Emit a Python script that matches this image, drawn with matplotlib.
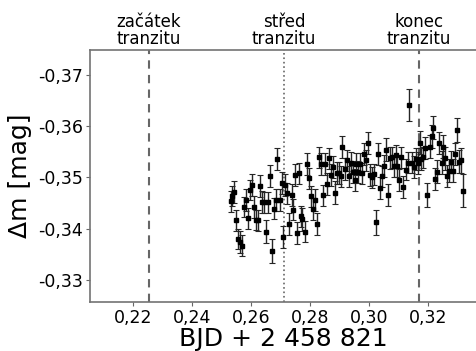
import matplotlib
matplotlib.use('Agg')
import matplotlib.pyplot as plt
from matplotlib.ticker import FuncFormatter

# BJD - 2458821
bjd = [0.2531, 0.2537, 0.2543, 0.2551, 0.2557, 0.2563, 0.2571, 0.2577, 0.2583, 0.2591,
       0.2598, 0.2603, 0.2611, 0.2618, 0.2624, 0.2631, 0.2639, 0.2645, 0.2650, 0.2657,
       0.2664, 0.2671, 0.2677, 0.2684, 0.2690, 0.2698, 0.2704, 0.2710, 0.2715, 0.2721,
       0.2730, 0.2738, 0.2744, 0.2750, 0.2757, 0.2764, 0.2770, 0.2775, 0.2783, 0.2791,
       0.2798, 0.2805, 0.2811, 0.2817, 0.2824, 0.2832, 0.2838, 0.2844, 0.2852, 0.2858,
       0.2865, 0.2872, 0.2878, 0.2885, 0.2891, 0.2898, 0.2905, 0.2910, 0.2918, 0.2925,
       0.2932, 0.2939, 0.2946, 0.2952, 0.2958, 0.2964, 0.2970, 0.2977, 0.2984, 0.2991,
       0.2997, 0.3005, 0.3012, 0.3019, 0.3026, 0.3031, 0.3038, 0.3045, 0.3052, 0.3059,
       0.3065, 0.3072, 0.3079, 0.3086, 0.3091, 0.3097, 0.3104, 0.3110, 0.3117, 0.3125,
       0.3132, 0.3138, 0.3146, 0.3152, 0.3159, 0.3166, 0.3173, 0.3178, 0.3185, 0.3192,
       0.3199, 0.3207, 0.3213, 0.3219, 0.3226, 0.3231, 0.3238, 0.3247, 0.3253, 0.3259,
       0.3266, 0.3272, 0.3279, 0.3286, 0.3293, 0.3299, 0.3305, 0.3312, 0.3319]

dmag = [-0.3453, -0.3464, -0.3471, -0.3416, -0.3380, -0.3374, -0.3367, -0.3442, -0.3456, -0.3420,
        -0.3475, -0.3485, -0.3442, -0.3417, -0.3416, -0.3483, -0.3452, -0.3451, -0.3394, -0.3451,
        -0.3503, -0.3356, -0.3439, -0.3456, -0.3536, -0.3456, -0.3489, -0.3384, -0.3485, -0.3469,
        -0.3409, -0.3466, -0.3437, -0.3505, -0.3391, -0.3508, -0.3424, -0.3418, -0.3394, -0.3526,
        -0.3498, -0.3463, -0.3438, -0.3456, -0.3409, -0.3539, -0.3526, -0.3465, -0.3526, -0.3487,
        -0.3537, -0.3505, -0.3520, -0.3470, -0.3509, -0.3509, -0.3502, -0.3559, -0.3516, -0.3533,
        -0.3502, -0.3529, -0.3511, -0.3495, -0.3526, -0.3511, -0.3526, -0.3508, -0.3546, -0.3533,
        -0.3567, -0.3505, -0.3500, -0.3506, -0.3412, -0.3546, -0.3479, -0.3502, -0.3522, -0.3554,
        -0.3466, -0.3538, -0.3539, -0.3522, -0.3543, -0.3522, -0.3495, -0.3539, -0.3481, -0.3515,
        -0.3529, -0.3641, -0.3529, -0.3520, -0.3536, -0.3528, -0.3568, -0.3536, -0.3539, -0.3557,
        -0.3466, -0.3560, -0.3580, -0.3597, -0.3497, -0.3511, -0.3567, -0.3529, -0.3560, -0.3537,
        -0.3503, -0.3513, -0.3530, -0.3513, -0.3546, -0.3592, -0.3531, -0.3533, -0.3474]

err = [0.0020, 0.0020, 0.0021, 0.0020, 0.0020, 0.0021, 0.0021, 0.0020, 0.0021, 0.0021,
       0.0020, 0.0021, 0.0021, 0.0020, 0.0021, 0.0021, 0.0021, 0.0021, 0.0022, 0.0021,
       0.0021, 0.0024, 0.0021, 0.0021, 0.0022, 0.0021, 0.0021, 0.0022, 0.0021, 0.0021,
       0.0021, 0.0022, 0.0021, 0.0021, 0.0022, 0.0021, 0.0021, 0.0022, 0.0021, 0.0021,
       0.0021, 0.0021, 0.0021, 0.0021, 0.0022, 0.0021, 0.0021, 0.0021, 0.0021, 0.0021,
       0.0021, 0.0021, 0.0021, 0.0022, 0.0021, 0.0021, 0.0021, 0.0022, 0.0021, 0.0021,
       0.0021, 0.0021, 0.0021, 0.0021, 0.0021, 0.0021, 0.0021, 0.0021, 0.0021, 0.0021,
       0.0022, 0.0021, 0.0021, 0.0021, 0.0025, 0.0021, 0.0022, 0.0021, 0.0021, 0.0022,
       0.0021, 0.0021, 0.0021, 0.0021, 0.0021, 0.0021, 0.0021, 0.0021, 0.0022, 0.0021,
       0.0021, 0.0031, 0.0021, 0.0021, 0.0021, 0.0021, 0.0022, 0.0021, 0.0021, 0.0022,
       0.0024, 0.0022, 0.0022, 0.0023, 0.0022, 0.0022, 0.0022, 0.0022, 0.0022, 0.0022,
       0.0022, 0.0022, 0.0022, 0.0022, 0.0022, 0.0023, 0.0023, 0.0024, 0.0032]

t_start = 0.2254
t_mid = 0.2713
t_end = 0.3171
top_labels = ['začátek\ntranzitu', 'střed\ntranzitu', 'konec\ntranzitu']

fig = plt.figure(figsize=(4.76, 3.51), dpi=100)
ax = fig.add_axes([0.189, 0.14, 0.811, 0.718])

ax.errorbar(bjd, dmag, yerr=err, fmt='s', color='black', ms=2.8,
            ecolor='0.15', elinewidth=1.0, capsize=2, capthick=0.8, zorder=3)

ax.axvline(t_start, color='0.4', ls='--', lw=1.5, dashes=(4, 3), zorder=1)
ax.axvline(t_mid, color='0.4', ls=':', lw=1.2, zorder=1)
ax.axvline(t_end, color='0.4', ls='--', lw=1.5, dashes=(4, 3), zorder=1)

ax.set_xlim(0.2054, 0.3364)
ax.set_ylim(-0.3257, -0.3749)
ax.set_xticks([0.22, 0.24, 0.26, 0.28, 0.30, 0.32])
ax.set_yticks([-0.37, -0.36, -0.35, -0.34, -0.33])
fmt = FuncFormatter(lambda v, p: f'{v:.2f}'.replace('.', ','))
ax.xaxis.set_major_formatter(fmt)
ax.yaxis.set_major_formatter(fmt)
ax.tick_params(labelsize=12.5, length=3, color='0.4', pad=2)

for s in ['left', 'bottom', 'top']:
    ax.spines[s].set_color('0.45')
    ax.spines[s].set_linewidth(1.2)
ax.spines['right'].set_visible(False)

ax.set_xlabel('BJD + 2 458 821', fontsize=18, labelpad=0)
ax.set_ylabel('Δm [mag]', fontsize=18, labelpad=4)

top = ax.secondary_xaxis('top')
top.set_xticks([t_start, t_mid, t_end])
top.set_xticklabels(top_labels, linespacing=0.95)
top.tick_params(length=0, labelsize=12, pad=1)
top.spines['top'].set_visible(False)

fig.savefig('out.png', dpi=100)
